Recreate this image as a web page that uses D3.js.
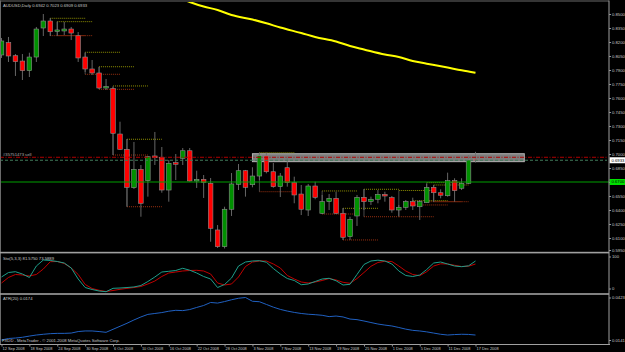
<!DOCTYPE html>
<html>
<head>
<meta charset="utf-8">
<script src="https://cdn.jsdelivr.net/npm/d3@7"></script>
<style>
  body { margin: 0; background: #000; }
  svg { display: block; }
  text { font-family: "Liberation Sans", Arial, sans-serif; }
</style>
</head>
<body>
<svg id="chart"></svg>
<script>
const W = 625, H = 352;
const AXIS_X = 609;

// ---- tick labels ----
const priceTicks = [0.8500, 0.8350, 0.8200, 0.8050, 0.7900, 0.7750, 0.7600, 0.7450, 0.7300,
                    0.7150, 0.7000, 0.6850, 0.6700, 0.6550, 0.6400, 0.6250, 0.6100, 0.5950];
const dateBars   = [0, 4, 8, 12, 16, 20, 24, 28, 32, 36, 40, 44, 48, 52, 56, 60, 64, 68];
const dateLabels = ["12 Sep 2008", "18 Sep 2008", "24 Sep 2008", "30 Sep 2008", "6 Oct 2008",
                    "10 Oct 2008", "16 Oct 2008", "22 Oct 2008", "28 Oct 2008", "3 Nov 2008",
                    "7 Nov 2008", "13 Nov 2008", "19 Nov 2008", "25 Nov 2008", "1 Dec 2008",
                    "5 Dec 2008", "11 Dec 2008", "17 Dec 2008"];

// ---- daily candles, 12 Sep 2008 .. 17 Dec 2008 ----
const opens  = [0.8061,0.8193,0.8053,0.7996,0.7893,0.8039,0.8350,0.8425,0.8313,0.8318,0.8339,0.8267,0.8039,0.7911,0.7868,0.7707,0.7702,0.7214,0.7050,0.6639,
                0.6836,0.6714,0.6979,0.6965,0.6614,0.6907,0.6954,0.7035,0.6711,0.6729,0.6686,0.6186,0.6007,0.6408,0.6675,0.6821,0.6671,0.6764,0.6979,0.6810,
                0.6650,0.6853,0.6693,0.6571,0.6400,0.6657,0.6365,0.6489,0.6525,0.6365,0.6114,0.6336,0.6536,0.6493,0.6515,0.6568,0.6532,0.6400,0.6429,0.6489,
                0.6435,0.6478,0.6643,0.6585,0.6553,0.6714,0.6633,0.6686,0.6942];
const highs  = [0.8243,0.8254,0.8071,0.8071,0.8085,0.8361,0.8500,0.8457,0.8418,0.8414,0.8361,0.8307,0.8085,0.8007,0.7932,0.7804,0.7718,0.7346,0.7161,0.7129,
                0.6882,0.6979,0.7236,0.7075,0.6936,0.7000,0.7064,0.7064,0.6821,0.6775,0.6743,0.6239,0.6435,0.6796,0.6893,0.6829,0.6858,0.7014,0.7014,0.6904,
                0.6796,0.6979,0.6757,0.6668,0.6679,0.6703,0.6561,0.6571,0.6596,0.6421,0.6328,0.6561,0.6625,0.6543,0.6614,0.6596,0.6550,0.6454,0.6507,0.6532,
                0.6507,0.6679,0.6668,0.6622,0.6800,0.6740,0.6740,0.6989,0.7023];
const lows   = [0.8029,0.7986,0.7836,0.7793,0.7825,0.7986,0.8264,0.8264,0.8267,0.8275,0.8221,0.7986,0.7879,0.7846,0.7696,0.7686,0.6989,0.7043,0.6435,0.6625,
                0.6328,0.6543,0.6882,0.6585,0.6489,0.6721,0.6882,0.6703,0.6636,0.6529,0.6060,0.5993,0.5988,0.6336,0.6614,0.6543,0.6643,0.6721,0.6793,0.6639,
                0.6539,0.6650,0.6472,0.6346,0.6336,0.6515,0.6357,0.6400,0.6357,0.6079,0.6079,0.6229,0.6400,0.6454,0.6472,0.6489,0.6371,0.6336,0.6400,0.6400,
                0.6293,0.6478,0.6489,0.6525,0.6543,0.6489,0.6614,0.6679,0.6909];
const closes = [0.8211,0.8050,0.7989,0.7893,0.8039,0.8339,0.8425,0.8310,0.8329,0.8339,0.8296,0.8029,0.7911,0.7868,0.7707,0.7723,0.7222,0.7050,0.6643,0.6836,
                0.6472,0.6971,0.6960,0.6614,0.6900,0.6890,0.7035,0.6711,0.6729,0.6697,0.6204,0.6007,0.6408,0.6679,0.6821,0.6643,0.6764,0.6982,0.6810,0.6650,
                0.6764,0.6693,0.6561,0.6408,0.6657,0.6536,0.6489,0.6525,0.6365,0.6108,0.6300,0.6536,0.6489,0.6515,0.6568,0.6550,0.6400,0.6429,0.6489,0.6443,
                0.6489,0.6643,0.6585,0.6558,0.6714,0.6607,0.6686,0.6936,0.6933];

// ---- long moving average ----
const maBars = [25, 27, 29, 31, 33, 36, 38, 40, 43, 45, 48, 50, 52, 55, 57, 59, 61, 64, 66, 68];
const maVals = [0.8688,0.8629,0.8580,0.8543,0.8489,0.8441,0.8400,0.8355,0.8296,0.8254,
                0.8205,0.8157,0.8120,0.8066,0.8039,0.7996,0.7968,0.7926,0.7897,0.7871];

// ---- short high/low level lines ----
const boxStart = [7, 8, 12, 14, 16, 18, 37, 46, 49, 52, 57, 59, 61, 62];
const boxHigh  = [0.8454,0.8418,0.8090,0.7935,0.7729,0.7158,0.7014,0.6604,0.6418,0.6622,0.6609,0.6500,0.6693,0.6668];
const boxLow   = [0.8268,0.8268,0.7854,0.7693,0.6989,0.6435,0.6596,0.6357,0.6079,0.6328,0.6328,0.6454,0.6489,0.6489];

// ---- objects ----
const zoneBars   = [36, 75];
const zonePrices = [0.7003, 0.6918];
const sellPrice  = 0.6965;
const hLinePrice = 0.6700;

// ---- Stochastic(5,3,3) ----
const stochMain = [39.5,51.3,53.4,47.4,38.2,68.4,84.2,82.9,80.3,76.3,63.2,34.2,11.8,6.6,2.6,0.8,9.7,10.5,11.8,13.2,
                   17.1,27.6,39.5,52.6,54.5,56.6,62.4,57.4,50.0,40.8,34.2,11.8,19.7,36.8,68.4,78.9,81.6,82.4,78.4,61.8,
                   47.4,35.5,30.3,19.2,21.1,27.6,34.2,36.1,29.5,18.4,20.3,46.1,72.4,81.6,83.7,81.6,73.7,55.3,43.4,40.8,
                   44.7,59.2,76.3,78.9,73.7,68.4,66.6,68.9,81.575];
const stochSignal = [23.7,38.2,46.1,44.7,42.1,46.1,60.5,79.7,80.3,75.0,63.2,46.1,19.7,9.2,4.5,1.3,3.9,7.1,9.5,11.8,
                     14.5,21.1,28.9,40.8,50.0,52.6,55.3,56.6,57.1,55.3,47.4,23.7,18.4,21.1,39.5,67.1,78.9,81.6,81.6,73.7,
                     63.2,43.4,34.2,26.3,23.7,26.3,30.3,35.5,31.6,25.5,22.9,35.5,51.3,67.6,77.6,80.8,80.3,68.4,55.3,46.1,
                     42.9,53.4,68.4,74.2,73.7,70.3,67.1,67.9,73.5889];

// ---- ATR(20) ----
const atr = [0.0141,0.0151,0.0154,0.0159,0.0167,0.0174,0.0179,0.0183,0.0185,0.0185,0.0187,0.0197,0.0201,0.0201,0.0197,0.0192,0.0212,0.0232,0.0252,0.0274,
             0.0294,0.0311,0.0317,0.0323,0.0332,0.0338,0.0336,0.0343,0.0357,0.0370,0.0390,0.0386,0.0396,0.0408,0.0418,0.0423,0.0398,0.0395,0.0377,0.0359,
             0.0344,0.0333,0.0324,0.0317,0.0312,0.0309,0.0305,0.0296,0.0300,0.0294,0.0280,0.0276,0.0267,0.0257,0.0247,0.0240,0.0234,0.0224,0.0213,0.0205,
             0.0201,0.0195,0.0187,0.0179,0.0174,0.0177,0.0179,0.0178,0.0174];

const svg = d3.select("#chart").attr("width", W).attr("height", H);
svg.append("rect").attr("width", W).attr("height", H).attr("fill", "#000");

// scales
const x  = d3.scaleLinear().domain([0, 68]).range([1.5, 475.5]);
const y  = d3.scaleLinear().domain([0.8650, 0.5950]).range([0, 252]);
const ys = d3.scaleLinear().domain([0, 100]).range([292, 254]);
const ya = d3.scaleLinear().domain([0.0141, 0.0423]).range([340, 297.5]);
const fmt4 = d3.format(".4f");
const TXT = "#c8c8c8", FS = 4.2;

// clip regions
const defs = svg.append("defs");
defs.append("clipPath").attr("id", "clipMain").append("rect").attr("x", 1).attr("y", 2).attr("width", AXIS_X - 1).attr("height", 249);
defs.append("clipPath").attr("id", "clipSto").append("rect").attr("x", 1).attr("y", 254).attr("width", AXIS_X - 1).attr("height", 39);
defs.append("clipPath").attr("id", "clipAtr").append("rect").attr("x", 1).attr("y", 295).attr("width", AXIS_X - 1).attr("height", 49);

// ---------- main panel ----------
const g = svg.append("g").attr("clip-path", "url(#clipMain)");

// zone rectangle (background object)
g.append("rect")
  .attr("x", x(zoneBars[0])).attr("width", x(zoneBars[1]) - x(zoneBars[0]))
  .attr("y", y(zonePrices[0])).attr("height", y(zonePrices[1]) - y(zonePrices[0]))
  .attr("fill", "#7c7c7c").attr("stroke", "#b4b4b4").attr("stroke-width", 1);

// level lines
const boxes = boxStart.map((b, i) => ({ b, hi: boxHigh[i], lo: boxLow[i] }));
g.selectAll("line.hi").data(boxes).join("line")
  .attr("x1", d => x(d.b)).attr("x2", d => x(d.b + 5))
  .attr("y1", d => y(d.hi)).attr("y2", d => y(d.hi))
  .attr("stroke", "#8f8f00").attr("stroke-width", 1).attr("stroke-dasharray", "1,1");
g.selectAll("line.lo").data(boxes).join("line")
  .attr("x1", d => x(d.b)).attr("x2", d => x(d.b + 5))
  .attr("y1", d => y(d.lo)).attr("y2", d => y(d.lo))
  .attr("stroke", "#9a3010").attr("stroke-width", 1).attr("stroke-dasharray", "1,1");
g.selectAll("line.conn").data(boxes).join("line")
  .attr("x1", d => x(d.b)).attr("x2", d => x(d.b))
  .attr("y1", d => y(d.hi)).attr("y2", d => y(d.lo))
  .attr("stroke", "#5a5a5a").attr("stroke-width", 0.8);

// candles
const bars = opens.map((o, i) => ({ i, o, h: highs[i], l: lows[i], c: closes[i] }));
g.selectAll("line.wick").data(bars).join("line")
  .attr("x1", d => x(d.i)).attr("x2", d => x(d.i))
  .attr("y1", d => y(d.h)).attr("y2", d => y(d.l))
  .attr("stroke", "#707070").attr("stroke-width", 0.9);
g.selectAll("rect.body").data(bars).join("rect")
  .attr("x", d => x(d.i) - 2.3).attr("width", 4.6)
  .attr("y", d => y(Math.max(d.o, d.c)))
  .attr("height", d => Math.max(1, Math.abs(y(d.o) - y(d.c))))
  .attr("fill", d => d.c >= d.o ? "#009000" : "#ff0000")
  .attr("stroke", "#8c8c8c").attr("stroke-width", 0.6);

// moving average
g.append("path")
  .datum(maBars.map((b, i) => [b, maVals[i]]))
  .attr("d", d3.line().x(d => x(d[0])).y(d => y(d[1])).curve(d3.curveMonotoneX))
  .attr("fill", "none").attr("stroke", "#ffff00").attr("stroke-width", 2);

// order line and bid line
const last = closes[closes.length - 1];
g.append("line").attr("x1", 0).attr("x2", AXIS_X - 2).attr("y1", y(sellPrice)).attr("y2", y(sellPrice))
  .attr("stroke", "#b00000").attr("stroke-width", 1).attr("stroke-dasharray", "4,1.5,1,1.5");
g.append("line").attr("x1", 0).attr("x2", AXIS_X - 2).attr("y1", y(last)).attr("y2", y(last))
  .attr("stroke", "#3f7a5a").attr("stroke-width", 1).attr("stroke-dasharray", "3,2");
g.append("text").attr("x", 3).attr("y", y(sellPrice) - 0.8)
  .attr("font-size", FS).attr("fill", "#b0b0b0").text("#35751473 sell");

// horizontal line
g.append("line").attr("x1", 0).attr("x2", AXIS_X).attr("y1", y(hLinePrice)).attr("y2", y(hLinePrice))
  .attr("stroke", "#00a000").attr("stroke-width", 1.2);

// header
svg.append("text").attr("x", 3).attr("y", 6.5).attr("font-size", FS).attr("fill", TXT)
  .text(`AUDUSD,Daily ${fmt4(opens[68])} ${fmt4(highs[68])} ${fmt4(lows[68])} ${fmt4(closes[68])}`);

// price axis
const pAxis = svg.append("g").attr("transform", `translate(${AXIS_X},0)`)
  .call(d3.axisRight(y).tickValues(priceTicks).tickSize(2).tickPadding(1).tickFormat(fmt4));
pAxis.select(".domain").remove();
pAxis.selectAll("line").attr("stroke", "#909090");
pAxis.selectAll("text").attr("fill", TXT).attr("font-size", FS).attr("font-family", "Liberation Sans, Arial, sans-serif");
pAxis.selectAll(".tick").filter(d => d === 0.5950).attr("transform", `translate(0,${y(0.5950) - 1.5})`);

// price labels on the axis
function axisTag(price, bg) {
  svg.append("rect").attr("x", AXIS_X + 0.5).attr("y", y(price) - 3).attr("width", 15.5).attr("height", 6).attr("fill", bg);
  svg.append("text").attr("x", AXIS_X + 2.5).attr("y", y(price)).attr("dy", "0.35em")
    .attr("font-size", FS).attr("fill", "#000").text(fmt4(price));
}
axisTag(last, "#ffffff");
axisTag(hLinePrice, "#00e000");

// ---------- stochastic panel ----------
const gs = svg.append("g").attr("clip-path", "url(#clipSto)");
const lineS = d3.line().x((d, i) => x(i)).y(d => ys(d));
gs.append("path").datum(stochSignal).attr("d", lineS).attr("fill", "none").attr("stroke", "#c00000").attr("stroke-width", 1);
gs.append("path").datum(stochMain).attr("d", lineS).attr("fill", "none").attr("stroke", "#1e9e8a").attr("stroke-width", 1);
svg.append("text").attr("x", 3).attr("y", 259.5).attr("font-size", FS).attr("fill", TXT)
  .text(`Sto(5,3,3) ${fmt4(stochMain[68])} ${fmt4(stochSignal[68])}`);
const sAxis = svg.append("g").attr("transform", `translate(${AXIS_X},0)`)
  .call(d3.axisRight(ys).tickValues([100, 0]).tickSize(2).tickPadding(1));
sAxis.select(".domain").remove();
sAxis.selectAll("line").attr("stroke", "#909090");
sAxis.selectAll("text").attr("fill", TXT).attr("font-size", FS).attr("font-family", "Liberation Sans, Arial, sans-serif");
sAxis.selectAll(".tick").attr("transform", d => `translate(0,${ys(d) + (d === 100 ? 3 : -3)})`);

// ---------- ATR panel ----------
const ga = svg.append("g").attr("clip-path", "url(#clipAtr)");
ga.append("path").datum(atr)
  .attr("d", d3.line().x((d, i) => x(i)).y(d => ya(d)))
  .attr("fill", "none").attr("stroke", "#2060c0").attr("stroke-width", 1);
svg.append("text").attr("x", 3).attr("y", 300).attr("font-size", FS).attr("fill", TXT)
  .text(`ATR(20) ${fmt4(atr[68])}`);
const aAxis = svg.append("g").attr("transform", `translate(${AXIS_X},0)`)
  .call(d3.axisRight(ya).tickValues([0.0423, 0.0141]).tickSize(2).tickPadding(1).tickFormat(fmt4));
aAxis.select(".domain").remove();
aAxis.selectAll("line").attr("stroke", "#909090");
aAxis.selectAll("text").attr("fill", TXT).attr("font-size", FS).attr("font-family", "Liberation Sans, Arial, sans-serif");
svg.append("text").attr("x", 2).attr("y", 342).attr("font-size", FS).attr("fill", TXT)
  .text("FXDD - MetaTrader - \u00a9 2001-2008 MetaQuotes Software Corp.");

// ---------- frame ----------
svg.append("rect").attr("x", 0).attr("y", 0.5).attr("width", AXIS_X).attr("height", 1).attr("fill", "#6a6a6a");
svg.append("rect").attr("x", 0).attr("y", 0.5).attr("width", 1).attr("height", 344).attr("fill", "#6a6a6a");
svg.append("rect").attr("x", 0).attr("y", 251.8).attr("width", AXIS_X).attr("height", 1.6).attr("fill", "#a0a0a0");
svg.append("rect").attr("x", 0).attr("y", 293.2).attr("width", AXIS_X).attr("height", 1.6).attr("fill", "#a0a0a0");
svg.append("rect").attr("x", 0).attr("y", 344).attr("width", AXIS_X + 1).attr("height", 1).attr("fill", "#a0a0a0");
svg.append("rect").attr("x", AXIS_X - 0.5).attr("y", 0.5).attr("width", 1).attr("height", 344.5).attr("fill", "#a0a0a0");

// date axis
const dAxis = svg.append("g").attr("transform", "translate(0,344.5)")
  .call(d3.axisBottom(x).tickValues(dateBars).tickSize(2).tickFormat((d, i) => dateLabels[i]));
dAxis.select(".domain").remove();
dAxis.selectAll("line").attr("stroke", "#909090");
dAxis.selectAll("text").attr("fill", TXT).attr("font-size", 3.9).attr("text-anchor", "start")
  .attr("dx", 0.5).attr("dy", "0.1em").attr("font-family", "Liberation Sans, Arial, sans-serif");
</script>
</body>
</html>
